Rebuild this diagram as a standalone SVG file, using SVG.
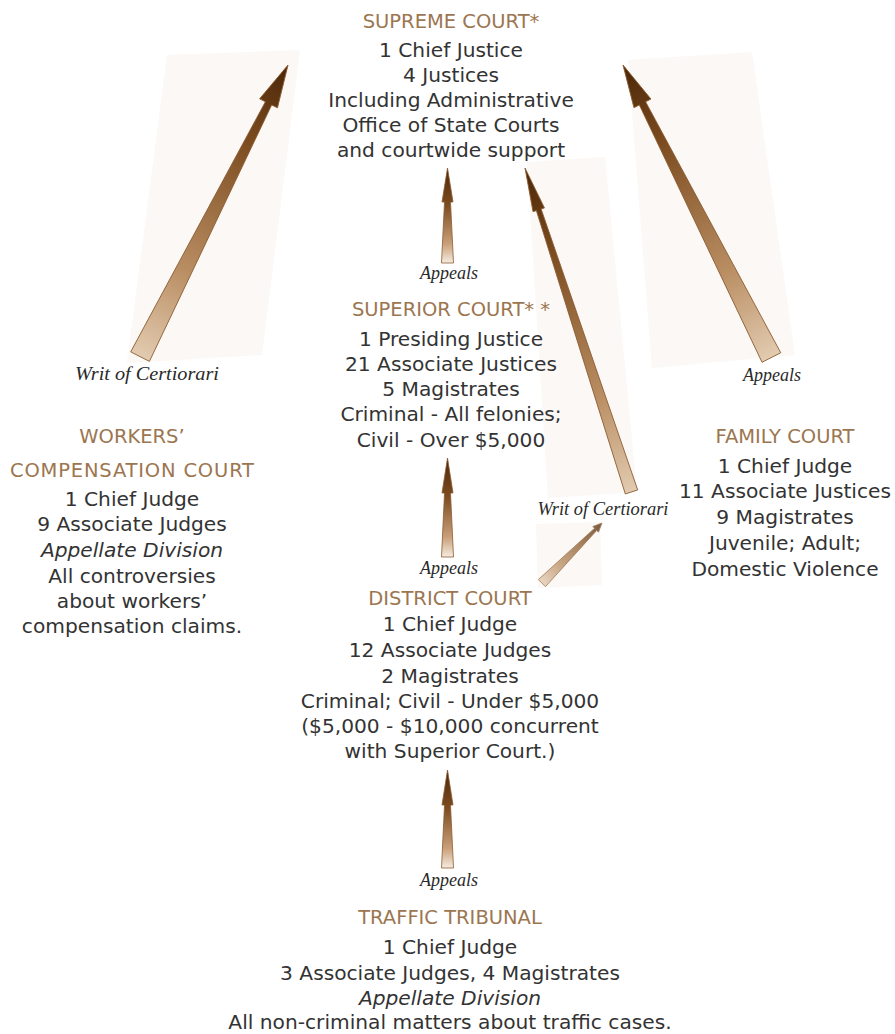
<svg xmlns="http://www.w3.org/2000/svg" width="895" height="1034" viewBox="0 0 895 1034">
<defs>
<style>
.h{font-family:"DejaVu Sans","Liberation Sans",sans-serif;font-size:19.5px;fill:#9c7650;text-anchor:middle}
.b{font-family:"DejaVu Sans","Liberation Sans",sans-serif;font-size:20.2px;fill:#333333;text-anchor:middle}
.bi{font-style:italic}
.l{font-family:"Liberation Serif",serif;font-style:italic;font-size:18px;fill:#2a2a2a;text-anchor:middle}
.panel{fill:#f8f3ee;opacity:0.6}
.arr{fill:url(#ag);stroke:#8a5a2e;stroke-width:0.8}
.arrc{fill:url(#agc);stroke:#8a5a2e;stroke-width:0.8}
</style>
<linearGradient id="ag" x1="0" y1="0" x2="0" y2="1">
<stop offset="0" stop-color="#4a2608"/>
<stop offset="0.25" stop-color="#7a4a1e"/>
<stop offset="0.7" stop-color="#b98d62"/>
<stop offset="1" stop-color="#e2cbb0"/>
</linearGradient>
<linearGradient id="agc" x1="0" y1="0" x2="0" y2="1">
<stop offset="0" stop-color="#4a2608"/>
<stop offset="0.4" stop-color="#7e4e22"/>
<stop offset="0.8" stop-color="#c9a07a"/>
<stop offset="1" stop-color="#f6ece0"/>
</linearGradient>
</defs>
<rect width="895" height="1034" fill="#ffffff"/>

<g id="panels">
<polygon class="panel" points="167,55 300,50 262,355 127,363"/>
<polygon class="panel" points="628,60 752,52 795,355 652,368"/>
<polygon class="panel" points="527,162 605,157 637,492 548,498"/>
<polygon class="panel" points="536,524 600,522 602,585 538,588"/>
</g>

<g id="connectors">
<path class="arr" transform="translate(288,65) rotate(26.9)" d="M0,0 L10,43 L3.5,43 L10.5,327 L-10.5,327 L-3.5,43 L-10,43 Z"/>
<path class="arr" transform="translate(623,65) rotate(-26.9)" d="M0,0 L9.5,43 L3.5,43 L10.5,328 L-10.5,328 L-3.5,43 L-9.5,43 Z"/>
<path class="arr" transform="translate(525,168) rotate(-18.2)" d="M0,0 L6,44 L2.5,44 L6.5,341 L-6.5,341 L-2.5,44 L-6,44 Z"/>
<path class="arr" opacity="0.75" transform="translate(602,523) rotate(45)" d="M0,0 L4,9 L1.5,9 L5,85 L-5,85 L-1.5,9 L-4,9 Z"/>
<path class="arrc" transform="translate(447.5,168)" d="M0,0 L5.5,34 L3,34 L6,95 L-6,95 L-3,34 L-5.5,34 Z"/>
<path class="arrc" transform="translate(447.5,458)" d="M0,0 L5.5,35 L3,35 L6,99 L-6,99 L-3,35 L-5.5,35 Z"/>
<path class="arrc" transform="translate(447.5,770)" d="M0,0 L5.5,35 L3,35 L6,98 L-6,98 L-3,35 L-5.5,35 Z"/>
<text class="l" x="147" y="380" textLength="144" lengthAdjust="spacingAndGlyphs">Writ of Certiorari</text>
<text class="l" x="772" y="381">Appeals</text>
<text class="l" x="449" y="279">Appeals</text>
<text class="l" x="603" y="515" textLength="131" lengthAdjust="spacingAndGlyphs">Writ of Certiorari</text>
<text class="l" x="449" y="574">Appeals</text>
<text class="l" x="449" y="886">Appeals</text>
</g>

<g id="supreme-court">
<text class="h" x="451" y="28">SUPREME COURT*</text>
<text class="b" x="451" y="57">1 Chief Justice</text>
<text class="b" x="451" y="82">4 Justices</text>
<text class="b" x="451" y="107">Including Administrative</text>
<text class="b" x="451" y="132">Office of State Courts</text>
<text class="b" x="451" y="157">and courtwide support</text>
</g>

<g id="superior-court">
<text class="h" x="451" y="316">SUPERIOR COURT* *</text>
<text class="b" x="451" y="346">1 Presiding Justice</text>
<text class="b" x="451" y="371">21 Associate Justices</text>
<text class="b" x="451" y="396">5 Magistrates</text>
<text class="b" x="451" y="421">Criminal - All felonies;</text>
<text class="b" x="451" y="447">Civil - Over $5,000</text>
</g>

<g id="workers-compensation-court">
<text class="h" x="132" y="443">WORKERS’</text>
<text class="h" x="132" y="477" textLength="244" lengthAdjust="spacing">COMPENSATION COURT</text>
<text class="b" x="132" y="506">1 Chief Judge</text>
<text class="b" x="132" y="531">9 Associate Judges</text>
<text class="b bi" x="132" y="557">Appellate Division</text>
<text class="b" x="132" y="583">All controversies</text>
<text class="b" x="132" y="608">about workers’</text>
<text class="b" x="132" y="633">compensation claims.</text>
</g>

<g id="family-court">
<text class="h" x="785" y="443">FAMILY COURT</text>
<text class="b" x="785" y="473">1 Chief Judge</text>
<text class="b" x="785" y="498">11 Associate Justices</text>
<text class="b" x="785" y="524">9 Magistrates</text>
<text class="b" x="785" y="550">Juvenile; Adult;</text>
<text class="b" x="785" y="576">Domestic Violence</text>
</g>

<g id="district-court">
<text class="h" x="450" y="605">DISTRICT COURT</text>
<text class="b" x="450" y="631">1 Chief Judge</text>
<text class="b" x="450" y="657">12 Associate Judges</text>
<text class="b" x="450" y="683">2 Magistrates</text>
<text class="b" x="450" y="708">Criminal; Civil - Under $5,000</text>
<text class="b" x="450" y="733">($5,000 - $10,000 concurrent</text>
<text class="b" x="450" y="758">with Superior Court.)</text>
</g>

<g id="traffic-tribunal">
<text class="h" x="450" y="924">TRAFFIC TRIBUNAL</text>
<text class="b" x="450" y="954">1 Chief Judge</text>
<text class="b" x="450" y="980">3 Associate Judges, 4 Magistrates</text>
<text class="b bi" x="450" y="1005">Appellate Division</text>
<text class="b" x="450" y="1029">All non-criminal matters about traffic cases.</text>
</g>
</svg>
